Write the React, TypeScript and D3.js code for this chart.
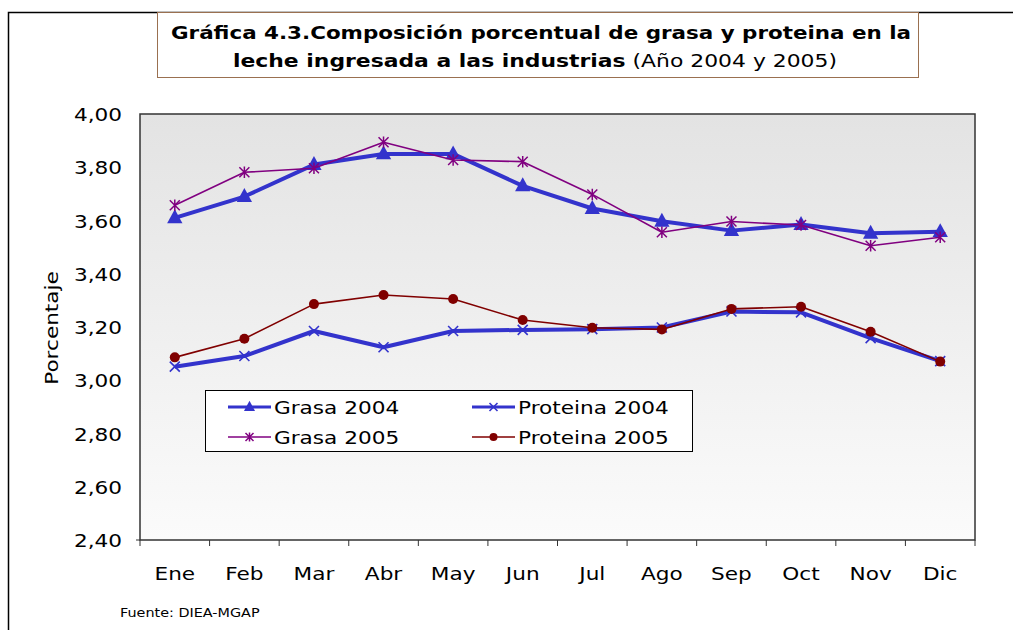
import React from "react";
import * as d3 from "d3";

const months = ["Ene", "Feb", "Mar", "Abr", "May", "Jun", "Jul", "Ago", "Sep", "Oct", "Nov", "Dic"];
const grasa2004 = [3.61, 3.69, 3.81, 3.85, 3.85, 3.73, 3.645, 3.597, 3.562, 3.585, 3.552, 3.558];
const grasa2005 = [3.657, 3.781, 3.796, 3.894, 3.827, 3.821, 3.698, 3.556, 3.596, 3.583, 3.505, 3.537];
const proteina2004 = [3.051, 3.091, 3.185, 3.124, 3.185, 3.189, 3.192, 3.198, 3.258, 3.255, 3.158, 3.072];
const proteina2005 = [3.086, 3.156, 3.286, 3.32, 3.305, 3.226, 3.197, 3.191, 3.268, 3.276, 3.182, 3.07];
const yTicks = [2.4, 2.6, 2.8, 3.0, 3.2, 3.4, 3.6, 3.8, 4.0];

const BLUE = "#3333CC";
const PURPLE = "#800080";
const DRED = "#800000";

type Marker = "triangle" | "x" | "star" | "circle";

function MarkerShape({ type, x, y, color, size }: { type: Marker; x: number; y: number; color: string; size: number }) {
  if (type === "triangle") {
    const s = size;
    return <path d={`M${x},${y - s * 0.95} L${x + s * 0.85},${y + s * 0.6} L${x - s * 0.85},${y + s * 0.6} Z`} fill={color} />;
  }
  if (type === "circle") {
    return <circle cx={x} cy={y} r={size} fill={color} />;
  }
  if (type === "x") {
    const s = size;
    return (
      <path d={`M${x - s},${y - s} L${x + s},${y + s} M${x - s},${y + s} L${x + s},${y - s}`} stroke={color} strokeWidth={1.6} fill="none" />
    );
  }
  const s = size;
  return (
    <path
      d={`M${x - s},${y - s} L${x + s},${y + s} M${x - s},${y + s} L${x + s},${y - s} M${x},${y - s * 1.15} L${x},${y + s * 1.15}`}
      stroke={color}
      strokeWidth={1.5}
      fill="none"
    />
  );
}

const SX = 1.2;

function WText({ x, y, anchor, size, children, rotate, sx }: { x: number; y: number; anchor?: string; size: number; children: React.ReactNode; rotate?: number; sx?: number }) {
  return (
    <text
      transform={`translate(${x},${y})${rotate ? ` rotate(${rotate})` : ""} scale(${sx ?? SX},1)`}
      textAnchor={anchor || "start"}
      fontSize={size}
      fill="#000"
    >
      {children}
    </text>
  );
}

export default function App() {
  const W = 1013;
  const H = 630;
  const left = 140;
  const right = 975;
  const top = 114;
  const bottom = 540;

  const x = d3.scaleBand<string>().domain(months).range([left, right]);
  const y = d3.scaleLinear().domain([2.4, 4.0]).range([bottom, top]);
  const cx = (m: string) => (x(m) as number) + x.bandwidth() / 2;
  const line = d3
    .line<number>()
    .x((_, i) => cx(months[i]))
    .y((d) => y(d));

  const series = [
    { name: "Grasa 2004", data: grasa2004, color: BLUE, width: 4, marker: "triangle" as Marker, msize: 9 },
    { name: "Proteina 2004", data: proteina2004, color: BLUE, width: 4, marker: "x" as Marker, msize: 5 },
    { name: "Grasa 2005", data: grasa2005, color: PURPLE, width: 1.6, marker: "star" as Marker, msize: 5 },
    { name: "Proteina 2005", data: proteina2005, color: DRED, width: 1.6, marker: "circle" as Marker, msize: 5 },
  ];
  const drawOrder = [series[1], series[0], series[3], series[2]];

  const fmt = (v: number) => v.toFixed(2).replace(".", ",");
  const font = "'DejaVu Sans', Verdana, sans-serif";

  const legendItems = [
    { s: series[0], lx: 228, ly: 407 },
    { s: series[1], lx: 472, ly: 407 },
    { s: series[2], lx: 228, ly: 437 },
    { s: series[3], lx: 472, ly: 437 },
  ];

  return (
    <svg width={W} height={H} style={{ position: "absolute", left: 0, top: 0 }} fontFamily={font}>
      <defs>
        <linearGradient id="bg" x1="0" y1="0" x2="0" y2="1">
          <stop offset="0%" stopColor="#e3e3e3" />
          <stop offset="100%" stopColor="#fbfbfb" />
        </linearGradient>
      </defs>
      <rect x={0} y={0} width={W} height={H} fill="#fff" />
      {/* outer frame */}
      <path d={`M8.5,${H} L8.5,12.5 L${W},12.5`} stroke="#000" strokeWidth={1.5} fill="none" />

      {/* title box */}
      <rect x={157.5} y={12.5} width={761} height={65} fill="#fff" stroke="#9a7050" strokeWidth={1} />
      <text x={541} y={39} textAnchor="middle" fontSize={18} fontWeight="bold" textLength={740} lengthAdjust="spacingAndGlyphs">
        Gráfica 4.3.Composición porcentual de grasa y proteina en la
      </text>
      <text x={535} y={67} textAnchor="middle" fontSize={18} textLength={604} lengthAdjust="spacingAndGlyphs">
        <tspan fontWeight="bold">leche ingresada a las industrias</tspan>
        <tspan>{"  (Año 2004 y 2005)"}</tspan>
      </text>

      {/* plot area */}
      <rect x={left} y={top} width={right - left} height={bottom - top} fill="url(#bg)" stroke="#333" strokeWidth={1.5} />

      {/* x ticks */}
      {months.map((m) => (
        <line key={"t" + m} x1={x(m)} x2={x(m)} y1={bottom} y2={bottom + 6} stroke="#333" strokeWidth={1} />
      ))}
      <line x1={right} x2={right} y1={bottom} y2={bottom + 6} stroke="#333" strokeWidth={1} />
      <line x1={left - 4} x2={left} y1={bottom} y2={bottom} stroke="#333" strokeWidth={1} />

      {months.map((m) => (
        <WText key={"l" + m} x={cx(m)} y={580} anchor="middle" size={18}>
          {m}
        </WText>
      ))}
      {yTicks.map((t) => (
        <WText key={"y" + t} x={122} y={y(t) + 7} anchor="end" size={18}>
          {fmt(t)}
        </WText>
      ))}
      <WText x={58} y={328} anchor="middle" size={18} rotate={-90}>
        Porcentaje
      </WText>

      {/* lines */}
      {drawOrder.map((s) => (
        <g key={s.name}>
          <path d={line(s.data) || ""} fill="none" stroke={s.color} strokeWidth={s.width} strokeLinejoin="round" />
          {s.data.map((v, i) => (
            <MarkerShape key={i} type={s.marker} x={cx(months[i])} y={y(v)} color={s.color} size={s.msize} />
          ))}
        </g>
      ))}

      {/* legend */}
      <rect x={205.5} y={390.5} width={487} height={61} fill="#fff" stroke="#000" strokeWidth={1} />
      {legendItems.map(({ s, lx, ly }) => (
        <g key={"lg" + s.name}>
          <line x1={lx} x2={lx + 43} y1={ly} y2={ly} stroke={s.color} strokeWidth={s.width === 4 ? 3 : 1.5} />
          <MarkerShape type={s.marker} x={lx + 21.5} y={ly} color={s.color} size={s.marker === "triangle" ? 6.5 : 4} />
          <WText x={lx + 46} y={ly + 7} size={18}>
            {s.name}
          </WText>
        </g>
      ))}

      <WText x={120} y={617} size={12.5} sx={1.15}>
        Fuente: DIEA-MGAP
      </WText>
    </svg>
  );
}
